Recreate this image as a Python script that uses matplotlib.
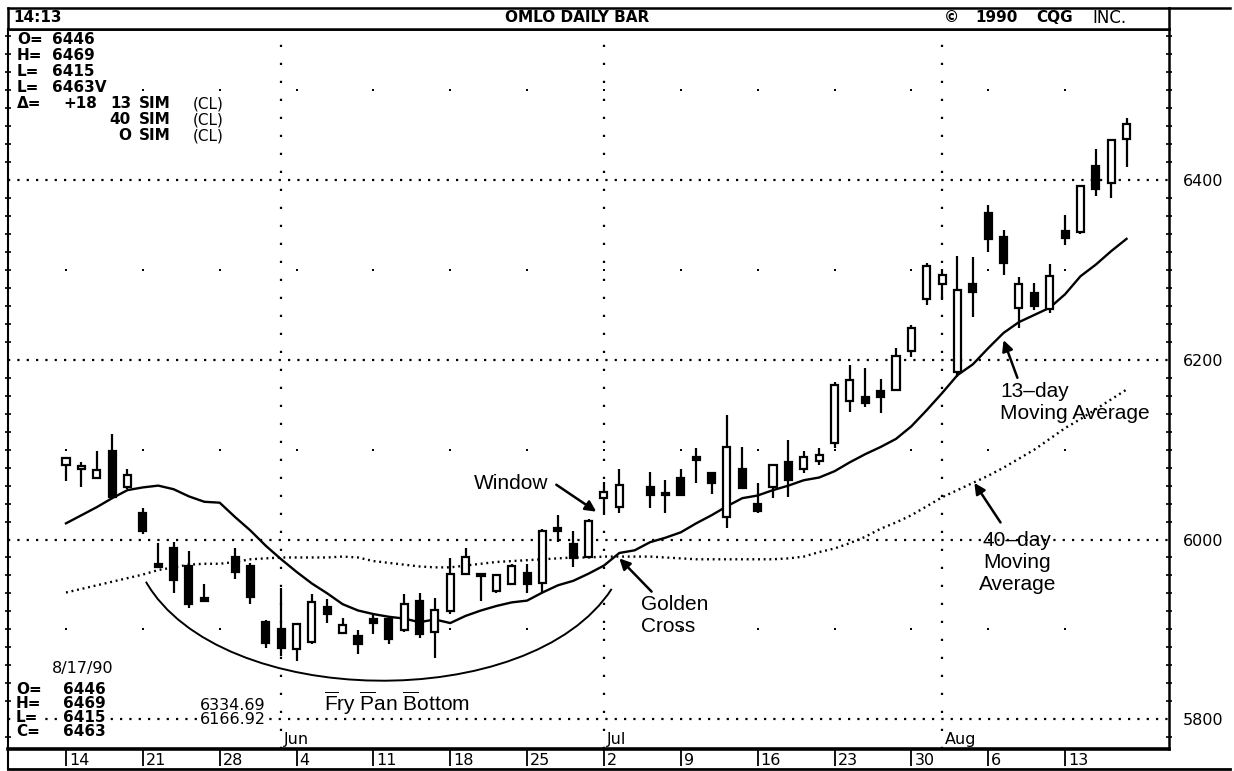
import matplotlib

matplotlib.use("Agg")

import matplotlib.pyplot as plt
import numpy as np
from matplotlib.lines import Line2D
from matplotlib.patches import PathPatch
from matplotlib.path import Path
from matplotlib.ticker import FixedLocator, MultipleLocator

W, H = 1234, 771

# every weekday from Mon 14 May to Fri 17 Aug 1990; holidays carry no bar
START, END = "1990-05-14", "1990-08-18"
HOLIDAYS = ["1990-05-28", "1990-07-04"]

N = None
OPEN = [6083, 6078, 6068, 6099, 6058, 6030, 5973, 5990, 5970, 5935,
        N, 5981, 5970, 5908, 5900, 5878, 5886, 5925, 5896, 5893,
        5911, 5911, 5899, 5932, 5897, 5920, 5962, 5961, 5943, 5951,
        5963, 5952, 6012, 5995, 5980, 6046, 6036, N, 6059, 6051,
        6069, 6092, 6074, 6025, 6079, 6040, 6058, 6086, 6078, 6087,
        6107, 6154, 6159, 6165, 6166, 6210, 6268, 6284, 6187, 6284,
        6364, 6337, 6258, 6274, 6257, 6343, 6342, 6416, 6397, 6446]
HIGH = [6092, 6086, 6099, 6118, 6078, 6035, 5996, 5997, 5987, 5951,
        N, 5990, 5974, 5910, 5946, 5907, 5939, 5934, 5913, 5899,
        5916, 5915, 5939, 5940, 5935, 5979, 5991, 5962, 5962, 5973,
        5973, 6012, 6027, 6009, 6023, 6064, 6079, N, 6075, 6066,
        6079, 6102, 6075, 6139, 6103, 6063, 6083, 6111, 6099, 6102,
        6175, 6194, 6191, 6179, 6213, 6239, 6308, 6301, 6316, 6315,
        6372, 6344, 6292, 6286, 6307, 6361, 6394, 6435, 6445, 6469]
LOW = [6065, 6059, 6067, 6046, 6056, 6006, 5968, 5941, 5924, 5931,
       N, 5956, 5928, 5879, 5870, 5865, 5884, 5907, 5895, 5873,
       5895, 5884, 5897, 5890, 5868, 5917, 5960, 5932, 5940, 5949,
       5940, 5941, 5997, 5969, 5980, 6029, 6030, N, 6035, 6029,
       6049, 6063, 6051, 6013, 6057, 6029, 6046, 6047, 6074, 6083,
       6102, 6142, 6147, 6141, 6166, 6203, 6261, 6267, 6181, 6248,
       6320, 6295, 6236, 6256, 6252, 6328, 6340, 6382, 6380, 6415]
CLOSE = [6091, 6082, 6077, 6047, 6072, 6010, 5969, 5955, 5928, 5932,
         N, 5964, 5936, 5885, 5879, 5906, 5930, 5917, 5905, 5884,
         5907, 5889, 5928, 5895, 5922, 5962, 5981, 5959, 5961, 5970,
         5951, 6009, 6010, 5979, 6021, 6053, 6061, N, 6050, 6049,
         6050, 6089, 6063, 6103, 6057, 6032, 6083, 6066, 6092, 6094,
         6172, 6178, 6152, 6159, 6204, 6236, 6305, 6295, 6278, 6275,
         6334, 6308, 6284, 6260, 6293, 6336, 6393, 6390, 6445, 6463]

MA13 = [6018, 6027, 6036, 6046, 6055, 6058, 6060, 6056, 6048, 6042,
        6041, 6025, 6010, 5993, 5978, 5964, 5951, 5940, 5928, 5921,
        5917, 5914, 5912, 5908, 5911, 5907, 5915, 5921, 5926, 5930,
        5932, 5941, 5949, 5954, 5962, 5971, 5985, 5988, 5997, 6002,
        6008, 6018, 6027, 6037, 6046, 6049, 6055, 6060, 6066, 6069,
        6076, 6086, 6095, 6103, 6112, 6126, 6144, 6163, 6183, 6195,
        6213, 6230, 6242, 6250, 6258, 6273, 6293, 6306, 6321, 6334.69]
MA40 = [5941, 5945, 5949, 5953, 5957, 5961, 5966, 5969, 5972, 5973,
        5973, 5975, 5978, 5979, 5980, 5980, 5980, 5980, 5981, 5980,
        5976, 5974, 5972, 5970, 5969, 5969, 5971, 5973, 5975, 5976,
        5977, 5978, 5979, 5980, 5980, 5981, 5981, 5981, 5981, 5980,
        5979, 5978, 5978, 5978, 5978, 5978, 5978, 5979, 5981, 5986,
        5990, 5996, 6003, 6012, 6019, 6027, 6037, 6047, 6055, 6063,
        6071, 6080, 6090, 6100, 6112, 6124, 6134, 6145, 6156, 6166.92]

PRICE_LABELS = [5800, 6000, 6200, 6400]
DOT_LEVELS = [5900, 6100, 6300, 6500]
MONTH_NAMES = {6: "Jun", 7: "Jul", 8: "Aug"}

TOP_BLOCK = [("O=", "6446"), ("H=", "6469"), ("L=", "6415"), ("L=", "6463V")]
SIM_ROWS = [("13", "+18"), ("40", ""), ("O", "")]
LAST_BAR = [("O=", "6446"), ("H=", "6469"), ("L=", "6415"), ("C=", "6463")]

# annotation geometry in data units (day index, price)
PAN_ARC = [(5.2, 5953), (10.0, 5810), (30.2, 5805), (35.5, 5945)]

plt.rcParams["font.family"] = ["DejaVu Sans"]
plt.rcParams["mathtext.fontset"] = "custom"
plt.rcParams["mathtext.rm"] = "Liberation Sans"
ANN_FONT = ["Liberation Sans", "DejaVu Sans"]

days = np.arange(np.datetime64(START), np.datetime64(END))
weekdays = days[np.is_busday(days)]
x = np.arange(len(weekdays))
trading = np.is_busday(weekdays, holidays=HOLIDAYS)
mondays = x[np.is_busday(weekdays, weekmask="1000000")]
month = weekdays.astype("datetime64[M]")
dom = (weekdays - month).astype(int) + 1
tmonth = month[trading]
first_of_month = x[trading][1:][tmonth[1:] != tmonth[:-1]]

o = np.array(OPEN, dtype=float)
h = np.array(HIGH, dtype=float)
lo = np.array(LOW, dtype=float)
c = np.array(CLOSE, dtype=float)

XLIM = (-58 / 15.37, 1103 / 15.37)
YLIM = (5766.8, 6568.3)


def box(x0, y0, x1, y1):
    return [x0 / W, 1 - y1 / H, (x1 - x0) / W, (y1 - y0) / H]


def ptext(px, py, s, **kw):
    kw.setdefault("va", "center")
    kw.setdefault("bbox", dict(facecolor="white", edgecolor="none", pad=0.5))
    fig.text(px / W, 1 - py / H, s, **kw)


fig = plt.figure(figsize=(W / 100, H / 100), dpi=100)
fig.patch.set_facecolor("white")

ax = fig.add_axes(box(8, 29, 1169, 749))
ax.set_xlim(*XLIM)
ax.set_ylim(*YLIM)
ax.set_xticks([])

# grid
for p in PRICE_LABELS:
    ax.axhline(p, color="black", lw=1.6, ls=(0, (1, 3.2)), zorder=1)
for xm in first_of_month:
    ax.axvline(xm, color="black", lw=1.6, ls=(0, (1, 7.1)), zorder=1)
gx, gy = np.meshgrid(mondays, DOT_LEVELS)
ax.scatter(gx.ravel(), gy.ravel(), s=4, marker="s", color="black", lw=0, zorder=1)

# moving averages
ax.plot(x, MA40, color="black", lw=1.7, ls=(0, (0.8, 1.6)), zorder=2)
ax.plot(x, MA13, color="black", lw=1.7, zorder=4)

# candles
xt, ot, ht, lt, ct = x[trading], o[trading], h[trading], lo[trading], c[trading]
ax.vlines(xt, lt, ht, color="black", lw=1.6, zorder=3)
bottom = np.fmin(ot, ct)
height = np.maximum(np.abs(ct - ot), 2.5)
up = ct >= ot
ax.bar(xt[up], height[up], bottom=bottom[up], width=0.46, facecolor="white",
       edgecolor="black", lw=1.6, zorder=5)
ax.bar(xt[~up], height[~up], bottom=bottom[~up], width=0.46, facecolor="black",
       edgecolor="black", lw=1.6, zorder=5)

# right price scale
ax.yaxis.tick_right()
ax.yaxis.set_major_locator(FixedLocator(PRICE_LABELS))
ax.yaxis.set_minor_locator(MultipleLocator(20))
ax.tick_params(axis="y", which="major", length=0, pad=10, labelsize=11.5,
               right=True, left=False)
ax.tick_params(axis="y", which="minor", direction="inout", length=5, width=1.2,
               left=True, right=True)
for side, lw in (("left", 1.5), ("right", 1.8), ("top", 2.0), ("bottom", 2.6)):
    ax.spines[side].set_linewidth(lw)

# month names along the bottom
for xm in first_of_month:
    m = int(str(weekdays[xm])[5:7])
    ax.text(xm + 0.2, 5777, MONTH_NAMES[m], fontsize=11.5, va="center", ha="left")

# annotations
arrow = dict(arrowstyle="-|>", color="black", lw=1.8, mutation_scale=16,
             shrinkA=0, shrinkB=0)
ann = dict(fontsize=15, family=ANN_FONT, zorder=6)
ax.text(28.95, 6062, "Window", ha="center", va="center", **ann)
ax.annotate("", xy=(34.5, 6031), xytext=(31.9, 6061), arrowprops=arrow)
ax.text(39.6, 5915, "Golden\nCross", ha="center", va="center",
        multialignment="left", **ann)
ax.annotate("", xy=(36.0, 5979), xytext=(38.1, 5942), arrowprops=arrow)
ax.text(60.77, 6152, "13\u2013day\nMoving Average", ha="left", va="center",
        multialignment="left", **ann)
ax.annotate("", xy=(61.0, 6222), xytext=(61.9, 6180), arrowprops=arrow)
ax.text(61.9, 5974, "40\u2013day\nMoving\nAverage", ha="center", va="center",
        multialignment="center", **ann)
ax.annotate("", xy=(59.1, 6063), xytext=(60.8, 6019), arrowprops=arrow)
ax.text(21.5, 5818,
        r"$\overline{\mathrm{F}}$ry $\overline{\mathrm{P}}$an $\overline{\mathrm{B}}$ottom",
        ha="center", va="center", **ann)
codes = [Path.MOVETO, Path.CURVE4, Path.CURVE4, Path.CURVE4]
ax.add_patch(PathPatch(Path(PAN_ARC, codes), facecolor="none", edgecolor="black",
                       lw=1.4, zorder=2))

# header strip
hax = fig.add_axes(box(8, 8, 1169, 29))
hax.set_xticks([])
hax.set_yticks([])
for s in hax.spines.values():
    s.set_linewidth(1.8)
fig.add_artist(Line2D([1169 / W, 1230 / W], [1 - 8 / H] * 2, color="black", lw=1.8))
bold = dict(fontsize=11, fontweight="bold")
ptext(13, 18, "14:13", bbox=None, **bold)
ptext(505, 18, "OMLO DAILY BAR", bbox=None, **bold)
ptext(944, 18, "\u00a9", bbox=None, **bold)
ptext(975, 18, "1990", bbox=None, **bold)
ptext(1036, 18, "CQG", bbox=None, **bold)
ptext(1092, 18, "INC.", bbox=None, fontsize=12)

# date strip
dax = fig.add_axes(box(8, 749, 1169, 769))
dax.set_xlim(*XLIM)
dax.set_ylim(0, 1)
dax.set_yticks([])
dax.set_xticks(mondays)
dax.tick_params(axis="x", top=True, bottom=False, direction="in", length=12,
                width=1.3, labeltop=False, labelbottom=False)
for side in ("top", "right", "bottom"):
    dax.spines[side].set_visible(False)
dax.spines["left"].set_linewidth(1.5)
dax.patch.set_alpha(0)
for m in mondays:
    dax.text(m + 0.2, 0.42, str(dom[m]), transform=dax.get_xaxis_transform(),
             ha="left", va="center", fontsize=11.5)
fig.add_artist(Line2D([8 / W, 1230 / W], [1 - 769 / H] * 2, color="black", lw=2))

# quote block, top left
rows_y = [40, 56, 72, 88, 104, 120, 136]
for (lab, val), yy in zip(TOP_BLOCK, rows_y):
    ptext(17, yy, lab, **bold)
    ptext(52, yy, val, **bold)
ptext(17, rows_y[4], "\u0394=", **bold)
for (period, delta), yy in zip(SIM_ROWS, rows_y[4:]):
    if delta:
        ptext(97, yy, delta, ha="right", **bold)
    ptext(131, yy, period, ha="right", **bold)
    ptext(139, yy, "SIM", **bold)
    ptext(193, yy, "(CL)", fontsize=11)

# last bar block, bottom left
ptext(52, 669, "8/17/90", fontsize=11.5)
for (lab, val), yy in zip(LAST_BAR, [689, 704, 718, 731]):
    ptext(16, yy, lab, **bold)
    ptext(63, yy, val, **bold)
ptext(200, 706, f"{MA13[-1]:.2f}", fontsize=11.5)
ptext(200, 720, f"{MA40[-1]:.2f}", fontsize=11.5)

fig.savefig("out.png", dpi=100, facecolor="white")
plt.close(fig)
